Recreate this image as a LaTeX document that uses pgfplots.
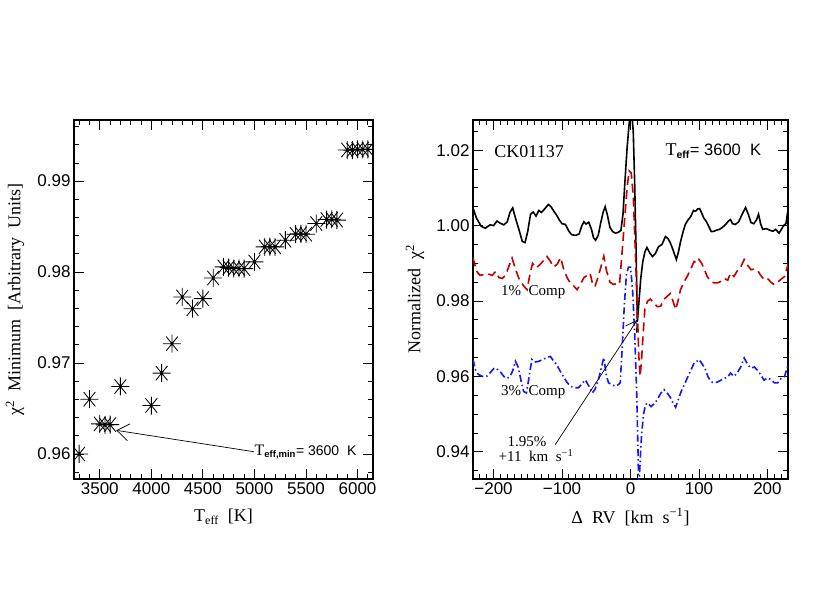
\documentclass[border=0pt]{standalone}
\usepackage{fontspec}
\setmainfont{Liberation Serif}[WordSpace=2]
\newfontfamily\sansf{Liberation Sans}
\usepackage{pgfplots}
\pgfplotsset{compat=1.18}
\usetikzlibrary{arrows.meta}

\pgfdeclareplotmark{idlstar}{%
 \pgfpathmoveto{\pgfqpoint{-\pgfplotmarksize}{0pt}}%
 \pgfpathlineto{\pgfqpoint{\pgfplotmarksize}{0pt}}%
 \pgfpathmoveto{\pgfqpoint{0pt}{-\pgfplotmarksize}}%
 \pgfpathlineto{\pgfqpoint{0pt}{\pgfplotmarksize}}%
 \pgfpathmoveto{\pgfqpoint{-0.65\pgfplotmarksize}{-0.8\pgfplotmarksize}}%
 \pgfpathlineto{\pgfqpoint{0.65\pgfplotmarksize}{0.8\pgfplotmarksize}}%
 \pgfpathmoveto{\pgfqpoint{-0.65\pgfplotmarksize}{0.8\pgfplotmarksize}}%
 \pgfpathlineto{\pgfqpoint{0.65\pgfplotmarksize}{-0.8\pgfplotmarksize}}%
 \pgfusepathqstroke
 \pgfpathcircle{\pgfpointorigin}{1.4pt}\pgfusepathqfill
}

\definecolor{idlred}{RGB}{195,0,0}
\definecolor{idlblue}{RGB}{20,20,255}

\pgfplotsset{idl/.style={
  scale only axis,
  axis line style={line width=1.1pt},
  every tick/.style={black, line width=0.8pt},
  major tick length=10pt, minor tick length=5pt,
  xtick pos=both, ytick pos=both, tick align=inside,
  scaled ticks=false,
  tick label style={font=\sansf\fontsize{17}{17}\selectfont},
  label style={font=\fontsize{18}{18}\selectfont},
  /pgf/number format/assume math mode=true,
}}

\begin{document}
\begin{tikzpicture}
\useasboundingbox (0,0) rectangle (830pt,600pt);

% ---------------- Left panel ----------------
\begin{axis}[idl, at={(74pt,121pt)}, anchor=south west,
  width=299pt, height=359pt,
  xmin=3250, xmax=6150, ymin=0.95725, ymax=0.99672,
  xtick={3500,4000,4500,5000,5500,6000},
  xticklabels={3500,4000,4500,5000,5500,6000},
  minor xtick={3300,3400,...,6100},
  ytick={0.96,0.97,0.98,0.99},
  yticklabels={0.96,0.97,0.98,0.99},
  minor ytick={0.958,0.960,...,0.9965},
  xlabel={T\textsubscript{\fontsize{12}{12}\selectfont eff} [K]},
  ylabel={χ\textsuperscript{2} Minimum [Arbitrary Units]},
  xlabel style={at={(axis description cs:0.5,-0.106)}, anchor=center},
  ylabel style={at={(axis description cs:-0.197,0.5)}, anchor=center},
  clip marker paths=true,
]
\addplot[only marks, mark=idlstar, mark size=9pt, black, line width=0.85pt] coordinates {
(3300,0.9600) (3400,0.96602) (3500,0.96331) (3550,0.9632) (3600,0.96323)
(3700,0.96742) (4000,0.96533) (4100,0.96889) (4200,0.97212) (4300,0.97726)
(4400,0.97597) (4500,0.97708) (4600,0.97935) (4700,0.98057) (4750,0.9805)
(4800,0.98038) (4850,0.9804) (4900,0.98038) (5000,0.98112) (5100,0.98277)
(5150,0.9828) (5200,0.98277) (5300,0.98350) (5400,0.98416) (5450,0.9842)
(5500,0.98416) (5600,0.98534) (5700,0.98578) (5750,0.9858) (5800,0.98571)
(5900,0.99342) (5950,0.9934) (6000,0.99349) (6050,0.9935) (6100,0.99349)
};
\draw[-{Straight Barb[length=12pt,width=17pt]}, line width=0.7pt]
  (axis cs:4995,0.96025) -- (axis cs:3660,0.9626);
\node[anchor=west, inner sep=0pt] at (axis cs:5000,0.9602)
  {\fontsize{16}{16}\selectfont T\textsubscript{\sansf\bfseries\fontsize{9.5}{9.5}\selectfont eff,min}\sansf\fontsize{14}{14}\selectfont= 3600\ \ K};
\end{axis}

% ---------------- Right panel ----------------
\begin{axis}[idl, at={(473pt,121pt)}, anchor=south west,
  width=315pt, height=359pt,
  xmin=-230, xmax=230, ymin=0.9328, ymax=1.028,
  xtick={-200,-100,0,100,200},
  xticklabels={−200,−100,0,100,200},
  minor xtick={-220,-210,...,220},
  ytick={0.94,0.96,0.98,1.00,1.02},
  yticklabels={0.94,0.96,0.98,1.00,1.02},
  minor ytick={0.935,0.940,...,1.026},
  xlabel={Δ RV [km s\textsuperscript{−1}]},
  ylabel={Normalized χ\textsuperscript{2}},
  xlabel style={at={(axis description cs:0.5,-0.106)}, anchor=center},
  ylabel style={at={(axis description cs:-0.184,0.5)}, anchor=center},
]
% black solid
\addplot[black, line width=1.6pt] coordinates {
(-230,1.0047) (-225,1.0020) (-218,0.9998) (-212,0.9993) (-205,1.0002) (-200,1.0000)
(-195,1.0012) (-190,1.0006) (-185,1.0002) (-180,1.0010) (-176,1.0035) (-172,1.0047)
(-168,1.0020) (-163,0.9990) (-158,0.9958) (-154,0.9955) (-150,0.9985) (-146,1.0030)
(-142,1.0036) (-138,1.0025) (-134,1.0040) (-130,1.0035) (-125,1.0045) (-120,1.0056)
(-116,1.0050) (-112,1.0038) (-108,1.0028) (-104,1.0015) (-100,1.0005) (-95,1.0003)
(-90,0.9985) (-86,0.9976) (-80,0.9974) (-75,0.9978) (-71,1.0000) (-68,1.0010)
(-65,1.0004) (-61,1.0009) (-57,0.9990) (-54,0.9968) (-51,0.9961) (-47,0.9975)
(-44,1.0003) (-40,1.0035) (-37,1.0050) (-34,1.0030) (-30,0.9995) (-26,0.9984)
(-22,0.9980) (-18,0.9982) (-14,0.9987) (-11,1.0030) (-8,1.0120) (-5,1.0205)
(-2,1.0270) (0,1.0300) (2,1.0295) (4,1.0250) (6,1.0120) (8,0.9950) (10,0.9745)
(12,0.9790) (15,0.9860) (18,0.9905) (21,0.9930) (24,0.9942) (28,0.9928)
(32,0.9918) (36,0.9925) (41,0.9944) (46,0.9950) (51,0.9971) (55,0.9965)
(58,0.9955) (61,0.9941) (64,0.9925) (67,0.9910) (70,0.9930) (73,0.9957)
(77,0.9985) (80,1.0003) (84,1.0015) (88,1.0024) (92,1.0040) (95,1.0038)
(98,1.0044) (101,1.0045) (104,1.0033) (107,1.0020) (111,1.0010) (115,0.9995)
(118,0.9984) (122,0.9985) (126,0.9988) (130,0.9990) (134,0.9995) (139,1.0003)
(143,1.0012) (146,1.0016) (149,1.0005) (153,1.0003) (158,1.0010) (163,1.0030)
(168,1.0048) (172,1.0030) (176,1.0008) (180,1.0005) (184,1.0015) (187,1.0030)
(190,1.0005) (193,0.9990) (198,0.9992) (203,0.9988) (208,0.9985) (212,0.9990)
(217,0.9980) (221,0.9992) (224,1.0001) (227,1.0005) (230,1.0042)
};
% red dashed
\addplot[idlred, line width=1.6pt, dash pattern=on 9pt off 5pt] coordinates {
(-230,0.9915) (-225,0.9880) (-220,0.9868) (-214,0.9870) (-208,0.9872) (-202,0.9868)
(-197,0.9878) (-192,0.9862) (-187,0.9860) (-182,0.9870) (-177,0.9895) (-173,0.9914)
(-168,0.9885) (-163,0.9860) (-156,0.9840) (-151,0.9830) (-147,0.9870) (-143,0.9900)
(-138,0.9888) (-133,0.9895) (-128,0.9905) (-122,0.9918) (-117,0.9905) (-112,0.9890)
(-107,0.9898) (-102,0.9915) (-97,0.9880) (-92,0.9860) (-88,0.9848) (-83,0.9840)
(-78,0.9830) (-73,0.9845) (-68,0.9862) (-63,0.9868) (-59,0.9874) (-56,0.9850)
(-52,0.9838) (-48,0.9860) (-44,0.9885) (-39,0.9919) (-35,0.9880) (-30,0.9850)
(-25,0.9844) (-20,0.9846) (-16,0.9845) (-12,0.9936) (-8,1.0030) (-5,1.0100)
(-2,1.0145) (1,1.0140) (4,1.0080) (7,0.9936) (10,0.9777) (12,0.9660) (14,0.9600)
(16,0.9640) (18,0.9700) (21,0.9780) (25,0.9800) (29,0.9805) (34,0.9795)
(39,0.9785) (44,0.9786) (49,0.9805) (54,0.9813) (58,0.9820) (62,0.9800)
(66,0.9777) (70,0.9805) (73,0.9830) (78,0.9850) (83,0.9866) (88,0.9885)
(93,0.9905) (97,0.9900) (100,0.9910) (104,0.9900) (108,0.9883) (112,0.9865)
(117,0.9852) (122,0.9848) (127,0.9848) (132,0.9852) (137,0.9860) (142,0.9855)
(146,0.9874) (151,0.9865) (156,0.9880) (161,0.9890) (166,0.9910) (171,0.9895)
(176,0.9883) (181,0.9885) (186,0.9880) (190,0.9868) (195,0.9857) (200,0.9860)
(205,0.9850) (210,0.9843) (215,0.9850) (220,0.9858) (225,0.9865) (230,0.9897)
};
% blue dash-dot
\addplot[idlblue, line width=1.6pt, dash pattern=on 7pt off 3pt on 1.5pt off 3pt] coordinates {
(-230,0.9645) (-226,0.9615) (-222,0.9605) (-216,0.9600) (-210,0.9600) (-204,0.9612)
(-199,0.9622) (-195,0.9620) (-190,0.9612) (-185,0.9600) (-180,0.9595) (-176,0.9600)
(-172,0.9615) (-168,0.9640) (-164,0.9625) (-160,0.9590) (-156,0.9560) (-152,0.9556)
(-148,0.9600) (-144,0.9645) (-140,0.9638) (-134,0.9640) (-128,0.9645) (-122,0.9650)
(-117,0.9653) (-112,0.9640) (-108,0.9632) (-103,0.9615) (-98,0.9600) (-93,0.9585)
(-88,0.9574) (-82,0.9570) (-76,0.9570) (-71,0.9580) (-66,0.9591) (-61,0.9575)
(-56,0.9556) (-52,0.9565) (-47,0.9590) (-43,0.9620) (-39,0.9650) (-35,0.9600)
(-32,0.9583) (-27,0.9578) (-22,0.9574) (-18,0.9578) (-15,0.9583) (-12,0.9680)
(-9,0.9790) (-6,0.9870) (-3,0.9890) (0,0.9890) (3,0.9830) (6,0.9720) (9,0.9560)
(11,0.9400) (12,0.9300) (14,0.9370) (16,0.9440) (19,0.9500) (22,0.9525)
(25,0.9530) (30,0.9520) (35,0.9528) (39,0.9538) (44,0.9555) (49,0.9565)
(54,0.9555) (58,0.9545) (62,0.9530) (66,0.9518) (70,0.9540) (74,0.9560)
(79,0.9580) (84,0.9600) (89,0.9620) (93,0.9636) (97,0.9640) (100,0.9645)
(104,0.9635) (109,0.9620) (113,0.9600) (117,0.9587) (122,0.9583) (127,0.9585)
(132,0.9590) (137,0.9595) (142,0.9598) (146,0.9609) (151,0.9600) (156,0.9610)
(161,0.9625) (166,0.9649) (171,0.9632) (176,0.9622) (181,0.9625) (186,0.9615)
(190,0.9605) (195,0.9590) (200,0.9596) (205,0.9592) (210,0.9583) (215,0.9583)
(220,0.9595) (225,0.9600) (230,0.9630)
};
\node[font=\fontsize{18}{18}\selectfont] at (axis cs:-148,1.0197) {CK01137};
\node[anchor=west, inner sep=0pt] at (axis cs:51,1.0197)
  {\fontsize{18}{18}\selectfont T\textsubscript{\sansf\bfseries\fontsize{10.5}{10.5}\selectfont eff}\sansf\fontsize{16.5}{16.5}\selectfont= 3600\ \ K};
\node[font=\fontsize{15}{15}\selectfont] at (axis cs:-142,0.9824) {1\% Comp};
\node[font=\fontsize{15}{15}\selectfont] at (axis cs:-142,0.9558) {3\% Comp};
\draw[-{Straight Barb[length=11pt,width=13pt]}, line width=0.7pt]
  (axis cs:-110,0.9419) -- (axis cs:10,0.9750);
\node[font=\fontsize{15}{15}\selectfont] at (axis cs:-151,0.94265) {1.95\%};
\node[font=\fontsize{15}{15}\selectfont] at (axis cs:-138,0.93894) {+11 km s\textsuperscript{−1}};
\end{axis}
\end{tikzpicture}
\end{document}
